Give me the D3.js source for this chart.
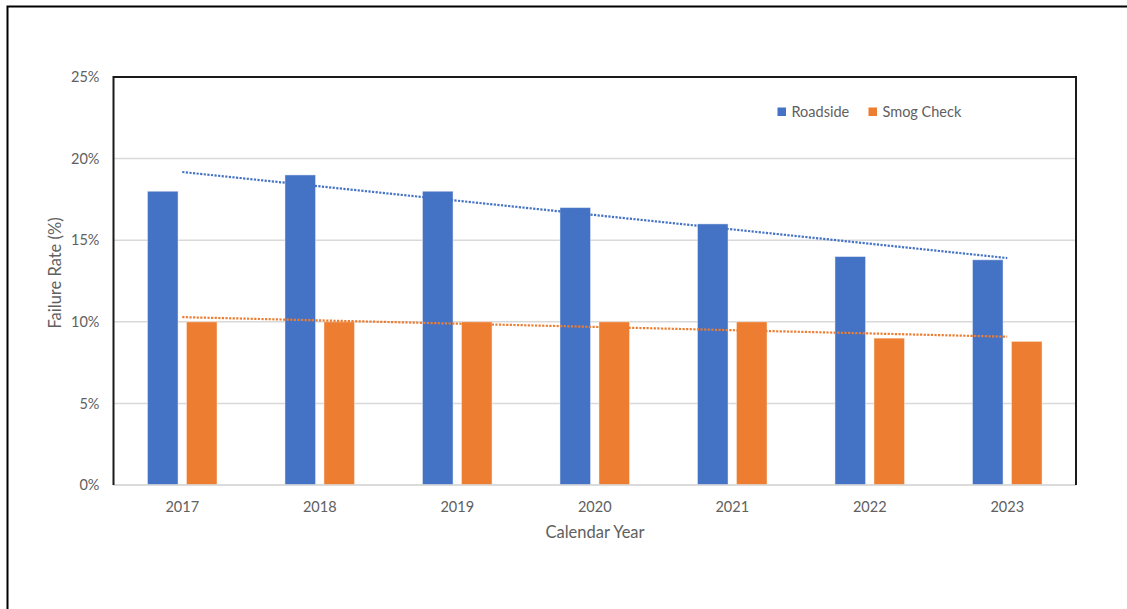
<!DOCTYPE html>
<html>
<head>
<meta charset="utf-8">
<script src="https://cdn.jsdelivr.net/npm/d3@7"></script>
<style>
  html, body { margin: 0; padding: 0; background: #fff; }
  svg { display: block; }
  text { font-family: Lato, "Open Sans", sans-serif; fill: #606060; }
</style>
</head>
<body>
<svg id="chart" width="1127" height="609"></svg>
<script>
// Failure rates by calendar year (percent)
const years = ["2017", "2018", "2019", "2020", "2021", "2022", "2023"];
const roadside = [18, 19, 18, 17, 16, 14, 13.8];
const smogCheck = [10, 10, 10, 10, 10, 9, 8.8];
const yTicks = [0, 5, 10, 15, 20, 25];
const seriesNames = ["Roadside", "Smog Check"];
const seriesColors = ["#4472C4", "#ED7D31"];

const series = [roadside, smogCheck].map((vals, i) => ({
  name: seriesNames[i], color: seriesColors[i], values: vals
}));

const plot = { left: 113.5, right: 1076, top: 77, bottom: 485 };
const textColor = "#606060";

const svg = d3.select("#chart");

// outer chart frame
svg.append("rect")
  .attr("x", 7.5).attr("y", 6.5)
  .attr("width", 1140).attr("height", 640)
  .attr("fill", "#fff").attr("stroke", "#000").attr("stroke-width", 2);

const x = d3.scaleBand().domain(years).range([plot.left, plot.right]).padding(0);
const y = d3.scaleLinear().domain([0, 25]).range([plot.bottom, plot.top]);

// horizontal gridlines
svg.append("g")
  .selectAll("line")
  .data(yTicks)
  .join("line")
  .attr("x1", plot.left).attr("x2", plot.right)
  .attr("y1", d => y(d)).attr("y2", d => y(d))
  .attr("stroke", "#d9d9d9").attr("stroke-width", 1.5);

// y tick labels
const yAxis = d3.axisLeft(y).tickValues(yTicks).tickFormat(d => d + "%").tickSize(0).tickPadding(14);
const gy = svg.append("g").attr("transform", `translate(${plot.left},0)`).call(yAxis);
gy.select(".domain").remove();
gy.selectAll("text").style("font-size", "14.5px").attr("fill", textColor)
  .style("font-family", "Lato, 'Open Sans', sans-serif");

// x tick labels
const xAxis = d3.axisBottom(x).tickSize(0).tickPadding(16.5);
const gx = svg.append("g").attr("transform", `translate(0,${plot.bottom})`).call(xAxis);
gx.select(".domain").remove();
gx.selectAll("text").style("font-size", "14.5px").attr("fill", textColor)
  .style("font-family", "Lato, 'Open Sans', sans-serif");

// clustered bars
const barW = x.bandwidth() * 0.2225;
const barGap = x.bandwidth() * 0.061;
const groupW = barW * 2 + barGap;
series.forEach((s, si) => {
  svg.append("g")
    .selectAll("rect")
    .data(s.values.map((v, i) => ({ year: years[i], v })))
    .join("rect")
    .attr("x", d => x(d.year) + x.bandwidth() / 2 - groupW / 2 + si * (barW + barGap))
    .attr("y", d => y(d.v))
    .attr("width", barW)
    .attr("height", d => y(0) - y(d.v))
    .attr("fill", s.color)
    .attr("stroke", "rgba(255,255,255,0.45)")
    .attr("stroke-width", 1);
});

// horizontal axis line
svg.append("line")
  .attr("x1", plot.left).attr("x2", plot.right)
  .attr("y1", y(0)).attr("y2", y(0))
  .attr("stroke", "#d9d9d9").attr("stroke-width", 1.5);

// linear trendlines (least squares over category index)
series.forEach(s => {
  const n = s.values.length;
  const xs = d3.range(1, n + 1);
  const mx = d3.mean(xs), my = d3.mean(s.values);
  const slope = d3.sum(xs, (xi, i) => (xi - mx) * (s.values[i] - my)) /
                d3.sum(xs, xi => (xi - mx) * (xi - mx));
  const fit = xi => my + slope * (xi - mx);
  const x0 = x(years[0]) + x.bandwidth() / 2;
  const x1 = x(years[n - 1]) + x.bandwidth() / 2;
  svg.append("line")
    .attr("x1", x0).attr("y1", y(fit(1)))
    .attr("x2", x1).attr("y2", y(fit(n)))
    .attr("stroke", s.color)
    .attr("stroke-width", 2.2)
    .attr("stroke-dasharray", "2.2,1.4");
});

// plot area frame (left, top, right)
svg.append("path")
  .attr("d", `M${plot.left},${plot.bottom}V${plot.top}H${plot.right}V${plot.bottom}`)
  .attr("fill", "none").attr("stroke", "#1a1a1a").attr("stroke-width", 2);

// legend
const legend = svg.append("g");
const legendItems = [{ x: 777.5 }, { x: 868.5 }];
series.forEach((s, i) => {
  const g = legend.append("g").attr("transform", `translate(${legendItems[i].x},107.5)`);
  g.append("rect").attr("width", 8.5).attr("height", 8.5).attr("fill", s.color);
  g.append("text").attr("x", 14).attr("y", 9.5)
    .style("font-size", "14.5px").text(s.name);
});

// axis titles
svg.append("text")
  .attr("transform", `translate(61,273) rotate(-90)`)
  .attr("text-anchor", "middle")
  .style("font-size", "16.5px")
  .text("Failure Rate (%)");

svg.append("text")
  .attr("x", 595).attr("y", 538)
  .attr("text-anchor", "middle")
  .style("font-size", "16.5px")
  .text("Calendar Year");
</script>
</body>
</html>
